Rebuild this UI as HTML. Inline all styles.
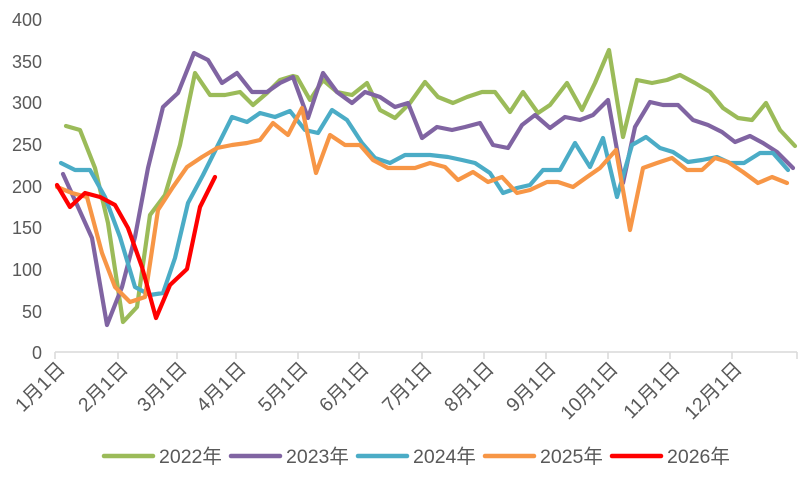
<!DOCTYPE html>
<html><head><meta charset="utf-8"><style>
html,body{margin:0;padding:0;background:#fff;}
svg text{font-family:"Liberation Sans","Noto Sans CJK SC",sans-serif;fill:#595959;}
</style></head><body>
<svg width="806" height="474" viewBox="0 0 806 474" xmlns="http://www.w3.org/2000/svg">
<g font-size="18" text-anchor="end">
<text x="42" y="26">400</text>
<text x="42" y="68">350</text>
<text x="42" y="109">300</text>
<text x="42" y="151">250</text>
<text x="42" y="193">200</text>
<text x="42" y="234">150</text>
<text x="42" y="276">100</text>
<text x="42" y="318">50</text>
<text x="42" y="359">0</text>
</g>
<g stroke="#d9d9d9" stroke-width="1.5" fill="none">
<line x1="55" y1="352" x2="797" y2="352"/>
<path d="M55 352v7M118 352v7M177 352v7M236 352v7M298 352v7M359 352v7M422 352v7M484 352v7M546 352v7M608 352v7M670 352v7M732 352v7M797 352v7"/>
</g>
<g font-size="19.5" text-anchor="end">
<text transform="translate(66,370) rotate(-45)">1月1日</text>
<text transform="translate(129,370) rotate(-45)">2月1日</text>
<text transform="translate(188,370) rotate(-45)">3月1日</text>
<text transform="translate(247,370) rotate(-45)">4月1日</text>
<text transform="translate(309,370) rotate(-45)">5月1日</text>
<text transform="translate(370,370) rotate(-45)">6月1日</text>
<text transform="translate(433,370) rotate(-45)">7月1日</text>
<text transform="translate(495,370) rotate(-45)">8月1日</text>
<text transform="translate(557,370) rotate(-45)">9月1日</text>
<text transform="translate(619,370) rotate(-45)">10月1日</text>
<text transform="translate(681,370) rotate(-45)">11月1日</text>
<text transform="translate(743,370) rotate(-45)">12月1日</text>
</g>
<g fill="none" stroke-width="4.2" stroke-linejoin="round" stroke-linecap="round">
<polyline stroke="#9bbb59" points="66,126 80,130 95,168 108,223 123,322 137,307 150,215 165,195 180,145 195,73 210,95 225,95 240,92 253,105 267,93 280,80 293,76 297,77 310,100 323,80 337,92 352,95 367,83 380,110 395,118 410,103 425,82 438,97 453,103 467,97 482,92 495,92 510,112 523,92 538,113 550,105 567,83 582,110 595,83 609,50 623,137 637,80 652,83 667,80 680,75 695,83 710,92 723,108 738,118 752,120 766,103 780,130 795,146"/>
<polyline stroke="#8064a2" points="63,174 78,207 92,238 107,325 122,287 135,237 148,168 163,107 178,93 194,53 208,60 222,83 237,73 252,92 267,92 280,83 293,77 308,118 323,73 337,92 352,103 365,92 380,97 395,107 408,103 422,138 437,127 452,130 465,127 480,123 493,145 508,148 522,125 535,115 550,128 565,117 580,120 593,115 608,100 623,183 635,127 650,102 663,105 678,105 693,120 708,125 722,132 735,142 750,136 763,143 777,152 793,168"/>
<polyline stroke="#4bacc6" points="61,163 75,170 90,170 105,197 120,237 135,287 150,295 163,293 175,258 188,203 203,175 217,147 232,117 247,122 260,113 275,117 290,111 305,130 318,133 332,110 347,120 362,143 375,158 390,163 405,155 418,155 430,155 448,157 462,160 475,163 490,173 503,193 517,188 530,185 543,170 547,170 560,170 575,143 590,167 603,138 617,197 632,145 646,137 660,148 673,152 688,162 702,160 717,157 730,163 744,163 760,153 773,153 788,170"/>
<polyline stroke="#f79646" points="57,187 72,193 87,197 102,253 115,287 130,302 145,297 158,210 173,187 187,167 202,157 217,148 232,145 247,143 260,140 273,123 288,135 302,108 316,173 330,135 345,145 360,145 373,160 388,168 402,168 415,168 430,163 445,167 458,180 473,172 488,182 502,177 517,193 530,190 547,182 558,182 573,187 587,177 600,168 616,150 630,230 643,168 657,163 672,158 687,170 702,170 715,158 728,162 743,172 758,183 772,177 787,183"/>
<polyline stroke="#ff0000" points="57,185 70,207 85,193 100,197 115,205 128,228 142,267 156,318 170,285 187,269 200,207 215,177"/>
</g>
<g stroke-width="4.5" stroke-linecap="round">
<line x1="104" y1="456" x2="153" y2="456" stroke="#9bbb59"/>
<line x1="231" y1="456" x2="280" y2="456" stroke="#8064a2"/>
<line x1="358" y1="456" x2="407" y2="456" stroke="#4bacc6"/>
<line x1="485" y1="456" x2="534" y2="456" stroke="#f79646"/>
<line x1="612" y1="456" x2="661" y2="456" stroke="#ff0000"/>
</g>
<g font-size="19.5">
<text x="159" y="463">2022年</text>
<text x="286" y="463">2023年</text>
<text x="413" y="463">2024年</text>
<text x="540" y="463">2025年</text>
<text x="667" y="463">2026年</text>
</g>
</svg>
</body></html>
